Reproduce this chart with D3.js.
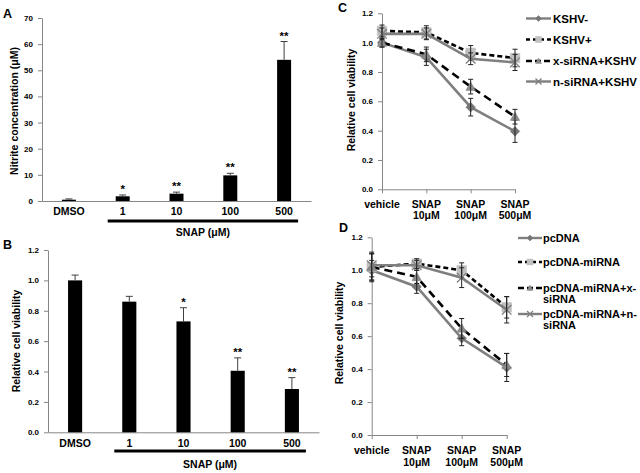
<!DOCTYPE html>
<html><head><meta charset="utf-8">
<script src="https://cdn.jsdelivr.net/npm/d3@7"></script>
<style>
body{margin:0;background:#fff;}
svg{display:block;font-family:Arial,"Liberation Sans",Helvetica,sans-serif;}
</style></head><body>
<svg id="chart" width="640" height="473"></svg>
<script>
// ---------- DATA ----------
const barCategories = ["DMSO","1","10","100","500"];
const nitriteTicks = [0,10,20,30,40,50,60,70];
const nitriteValues = [0.5,1.8,2.8,9.8,54];
const nitriteErrors = [0.3,0.5,0.6,0.8,7];
const nitriteSig = ["","*","**","**","**"];
const viabilityTicks = [0,0.2,0.4,0.6,0.8,1.0,1.2];
const viabilityValues = [1.0,0.86,0.73,0.405,0.285];
const viabilityErrors = [0.035,0.035,0.09,0.085,0.075];
const viabilitySig = ["","","*","**","**"];
const groupLabel = "SNAP (μM)";
const groupMembers = ["1","500"];

const lineCategories = ["vehicle","SNAP 10μM","SNAP 100μM","SNAP 500μM"];
const lineCategoryLines = [["vehicle"],["SNAP","10μM"],["SNAP","100μM"],["SNAP","500μM"]];

const seriesCNames = [["KSHV-"],["KSHV+"],["x-siRNA+KSHV"],["n-siRNA+KSHV"]];
const kshvNeg = [1.0,0.9,0.56,0.395];
const kshvNegErr = [0.03,0.055,0.06,0.075];
const kshvPos = [1.08,1.07,0.93,0.895];
const kshvPosErr = [0.04,0.045,0.05,0.06];
const xSiKshv = [1.0,0.92,0.7,0.495];
const xSiKshvErr = [0.03,0.05,0.05,0.05];
const nSiKshv = [1.06,1.06,0.89,0.865];
const nSiKshvErr = [0.04,0.04,0.04,0.055];

const seriesDNames = [["pcDNA"],["pcDNA-miRNA"],["pcDNA-miRNA+x-","siRNA"],["pcDNA-miRNA+n-","siRNA"]];
const pcDNA = [1.0,0.9,0.587,0.41];
const pcDNAErr = [0.06,0.04,0.045,0.085];
const pcMiR = [1.02,1.04,1.0,0.775];
const pcMiRErr = [0.08,0.03,0.045,0.065];
const pcMiRx = [1.02,0.96,0.647,0.425];
const pcMiRxErr = [0.09,0.04,0.06,0.07];
const pcMiRn = [1.03,1.03,0.955,0.76];
const pcMiRnErr = [0.07,0.03,0.06,0.08];

// ---------- STYLE ----------
const axisColor = "#868686";
const seriesStyles = [
  {marker:"diamond", fill:"#767676", line:"#7f7f7f", dash:null},
  {marker:"square",  fill:"#c0c0c0", line:"#000000", dash:"5,3"},
  {marker:"triangle",fill:"#8a8a8a", line:"#000000", dash:"8,5"},
  {marker:"x",       fill:"#7f7f7f", line:"#7f7f7f", dash:null}
];

const svg = d3.select("#chart");

function styleAxis(g){
  g.select(".domain").attr("stroke", axisColor).attr("stroke-width",1);
  g.selectAll(".tick line").attr("stroke", axisColor);
  g.selectAll(".tick text").attr("fill","#000").attr("font-weight","bold");
}

function panelLetter(t,x,y){
  svg.append("text").attr("x",x).attr("y",y).text(t)
    .attr("font-size",12.5).attr("font-weight","bold");
}
function yTitle(t,cx,cy){
  svg.append("text").attr("transform",`translate(${cx},${cy}) rotate(-90)`)
    .attr("dy","0.35em").attr("text-anchor","middle").text(t)
    .attr("font-size",10.5).attr("font-weight","bold");
}

// ---------- BAR PANELS ----------
function barPanel(cfg){
  const x = d3.scaleBand().domain(barCategories).range(cfg.xRange)
    .paddingInner(0.74).paddingOuter(0.37);
  const y = d3.scaleLinear().domain(cfg.domain).range(cfg.yRange);
  const g = svg.append("g");
  const ya = g.append("g").attr("transform",`translate(${cfg.xRange[0]},0)`)
    .call(d3.axisLeft(y).tickValues(cfg.ticks).tickFormat(cfg.fmt)
      .tickSize(4).tickSizeOuter(0).tickPadding(5));
  styleAxis(ya); ya.selectAll(".tick text").attr("font-size",8);
  const xa = g.append("g").attr("transform",`translate(0,${y(0)})`)
    .call(d3.axisBottom(x).tickSize(0).tickSizeOuter(0).tickPadding(7));
  styleAxis(xa); xa.selectAll(".tick text").attr("font-size",10.5);
  const bw = x.bandwidth();
  g.selectAll("rect.bar").data(cfg.values).join("rect")
    .attr("x",(d,i)=>x(barCategories[i])).attr("width",bw)
    .attr("y",d=>y(d)).attr("height",d=>y(0)-y(d)).attr("fill","#000");
  cfg.values.forEach((v,i)=>{
    const cx = x(barCategories[i])+bw/2;
    const top = y(v+cfg.errors[i]);
    g.append("line").attr("x1",cx).attr("x2",cx).attr("y1",y(v)).attr("y2",top)
      .attr("stroke","#404040").attr("stroke-width",1);
    g.append("line").attr("x1",cx-3.5).attr("x2",cx+3.5).attr("y1",top).attr("y2",top)
      .attr("stroke","#404040").attr("stroke-width",1);
    if(cfg.sig[i]) g.append("text").attr("x",cx).attr("y",top-2)
      .attr("text-anchor","middle").attr("font-size",11.5).attr("font-weight","bold").text(cfg.sig[i]);
  });
  const gx1 = x(groupMembers[0])+bw/2-15, gx2 = x(groupMembers[1])+bw/2+14;
  g.append("line").attr("x1",gx1).attr("x2",gx2).attr("y1",cfg.groupY).attr("y2",cfg.groupY)
    .attr("stroke","#000").attr("stroke-width",3);
  g.append("text").attr("x",(gx1+gx2)/2).attr("y",cfg.groupTextY).attr("text-anchor","middle")
    .attr("font-size",10.5).attr("font-weight","bold").text(groupLabel);
}

barPanel({xRange:[42,311], yRange:[201,18], domain:[0,70], ticks:nitriteTicks, fmt:d3.format("d"),
  values:nitriteValues, errors:nitriteErrors, sig:nitriteSig, groupY:221, groupTextY:235.5});
panelLetter("A",3,18);
yTitle("Nitrite concentration (μM)",14.5,111);

barPanel({xRange:[48,319], yRange:[432.3,250], domain:[0,1.2], ticks:viabilityTicks, fmt:d3.format(".1f"),
  values:viabilityValues, errors:viabilityErrors, sig:viabilitySig, groupY:451, groupTextY:468});
panelLetter("B",3,249);
yTitle("Relative cell viability",16.5,341);

// ---------- LINE PANELS ----------
function markerPath(type, r){
  if(type==="diamond") return `M0,${-r}L${r},0L0,${r}L${-r},0Z`;
  if(type==="square") return `M${-r},${-r}H${r}V${r}H${-r}Z`;
  if(type==="triangle") return `M0,${-r}L${r},${r*0.8}L${-r},${r*0.8}Z`;
  return `M${-r},${-r}L${r},${r}M${-r},${r}L${r},${-r}`;
}
function drawMarker(g, st, cx, cy, r){
  const p = g.append("path").attr("d",markerPath(st.marker,r)).attr("transform",`translate(${cx},${cy})`);
  if(st.marker==="x") p.attr("fill","none").attr("stroke",st.fill).attr("stroke-width",1.3);
  else p.attr("fill",st.fill).attr("stroke",st.fill).attr("stroke-width",0.5);
}

function linePanel(cfg){
  const x = d3.scalePoint().domain(lineCategories).range(cfg.xRange);
  const y = d3.scaleLinear().domain([0,1.2]).range(cfg.yRange);
  const g = svg.append("g");
  const ya = g.append("g").attr("transform",`translate(${cfg.xRange[0]},0)`)
    .call(d3.axisLeft(y).tickValues(viabilityTicks).tickFormat(d3.format(".1f"))
      .tickSize(4).tickSizeOuter(0).tickPadding(5));
  styleAxis(ya); ya.selectAll(".tick text").attr("font-size",8);
  const xa = g.append("g").attr("transform",`translate(0,${y(0)})`)
    .call(d3.axisBottom(x).tickSize(4).tickSizeOuter(0));
  styleAxis(xa);
  xa.selectAll(".tick text").remove();
  lineCategories.forEach((c,i)=>{
    const t = g.append("text").attr("x",x(c)).attr("y",y(0)+19).attr("text-anchor","middle")
      .attr("font-size",10.5).attr("font-weight","bold");
    lineCategoryLines[i].forEach((l,j)=>{
      t.append("tspan").attr("x",x(c)).attr("dy", j===0?0:cfg.lineGap).text(l);
    });
  });
  const lineGen = d3.line().x((d,i)=>x(lineCategories[i])).y(d=>y(d));
  cfg.series.forEach((s,k)=>{
    const st = seriesStyles[k];
    g.append("path").attr("d",lineGen(s.values)).attr("fill","none")
      .attr("stroke",st.line).attr("stroke-width",2.6)
      .attr("stroke-dasharray",st.dash);
    s.values.forEach((v,i)=>{
      const cx = x(lineCategories[i]);
      drawMarker(g, st, cx, y(v), 4.8);
      const e = s.errors[i];
      const t = y(v+e), b = y(v-e);
      g.append("line").attr("x1",cx).attr("x2",cx).attr("y1",t).attr("y2",b).attr("stroke","#222").attr("stroke-width",1);
      [t,b].forEach(yy=>g.append("line").attr("x1",cx-2.5).attr("x2",cx+2.5).attr("y1",yy).attr("y2",yy)
        .attr("stroke","#222").attr("stroke-width",1));
    });
  });
  cfg.names.forEach((nm,k)=>{
    const st = seriesStyles[k];
    const ly = cfg.legendY[k];
    const [lx1,lx2] = cfg.legendSample;
    g.append("line").attr("x1",lx1).attr("x2",lx2).attr("y1",ly).attr("y2",ly)
      .attr("stroke",st.line).attr("stroke-width",2.4)
      .attr("stroke-dasharray", st.dash ? (k===1?"4,3":"6,3") : null);
    drawMarker(g, st, (lx1+lx2)/2, ly, 3);
    const t = g.append("text").attr("x",cfg.legendText).attr("y",ly).attr("dy","0.35em")
      .attr("font-size",cfg.legendFont).attr("font-weight","bold");
    nm.forEach((l,j)=>t.append("tspan").attr("x",cfg.legendText).attr("dy", j===0?"0.35em":11.5).text(l));
  });
}

linePanel({xRange:[382,515], yRange:[189.3,13.3], lineGap:10.5,
  series:[{values:kshvNeg,errors:kshvNegErr},{values:kshvPos,errors:kshvPosErr},
          {values:xSiKshv,errors:xSiKshvErr},{values:nSiKshv,errors:nSiKshvErr}],
  names:seriesCNames, legendY:[18.5,39.5,61,81.5], legendSample:[526,551], legendText:553, legendFont:11.5});
panelLetter("C",338,11.5);
yTitle("Relative cell viability",351.5,100);

linePanel({xRange:[371.7,506.7], yRange:[435,237.3], lineGap:11.5,
  series:[{values:pcDNA,errors:pcDNAErr},{values:pcMiR,errors:pcMiRErr},
          {values:pcMiRx,errors:pcMiRxErr},{values:pcMiRn,errors:pcMiRnErr}],
  names:seriesDNames, legendY:[238,262,288,314], legendSample:[518,542], legendText:543, legendFont:11});
panelLetter("D",339,232);
yTitle("Relative cell viability",339,333);
</script>
</body></html>
